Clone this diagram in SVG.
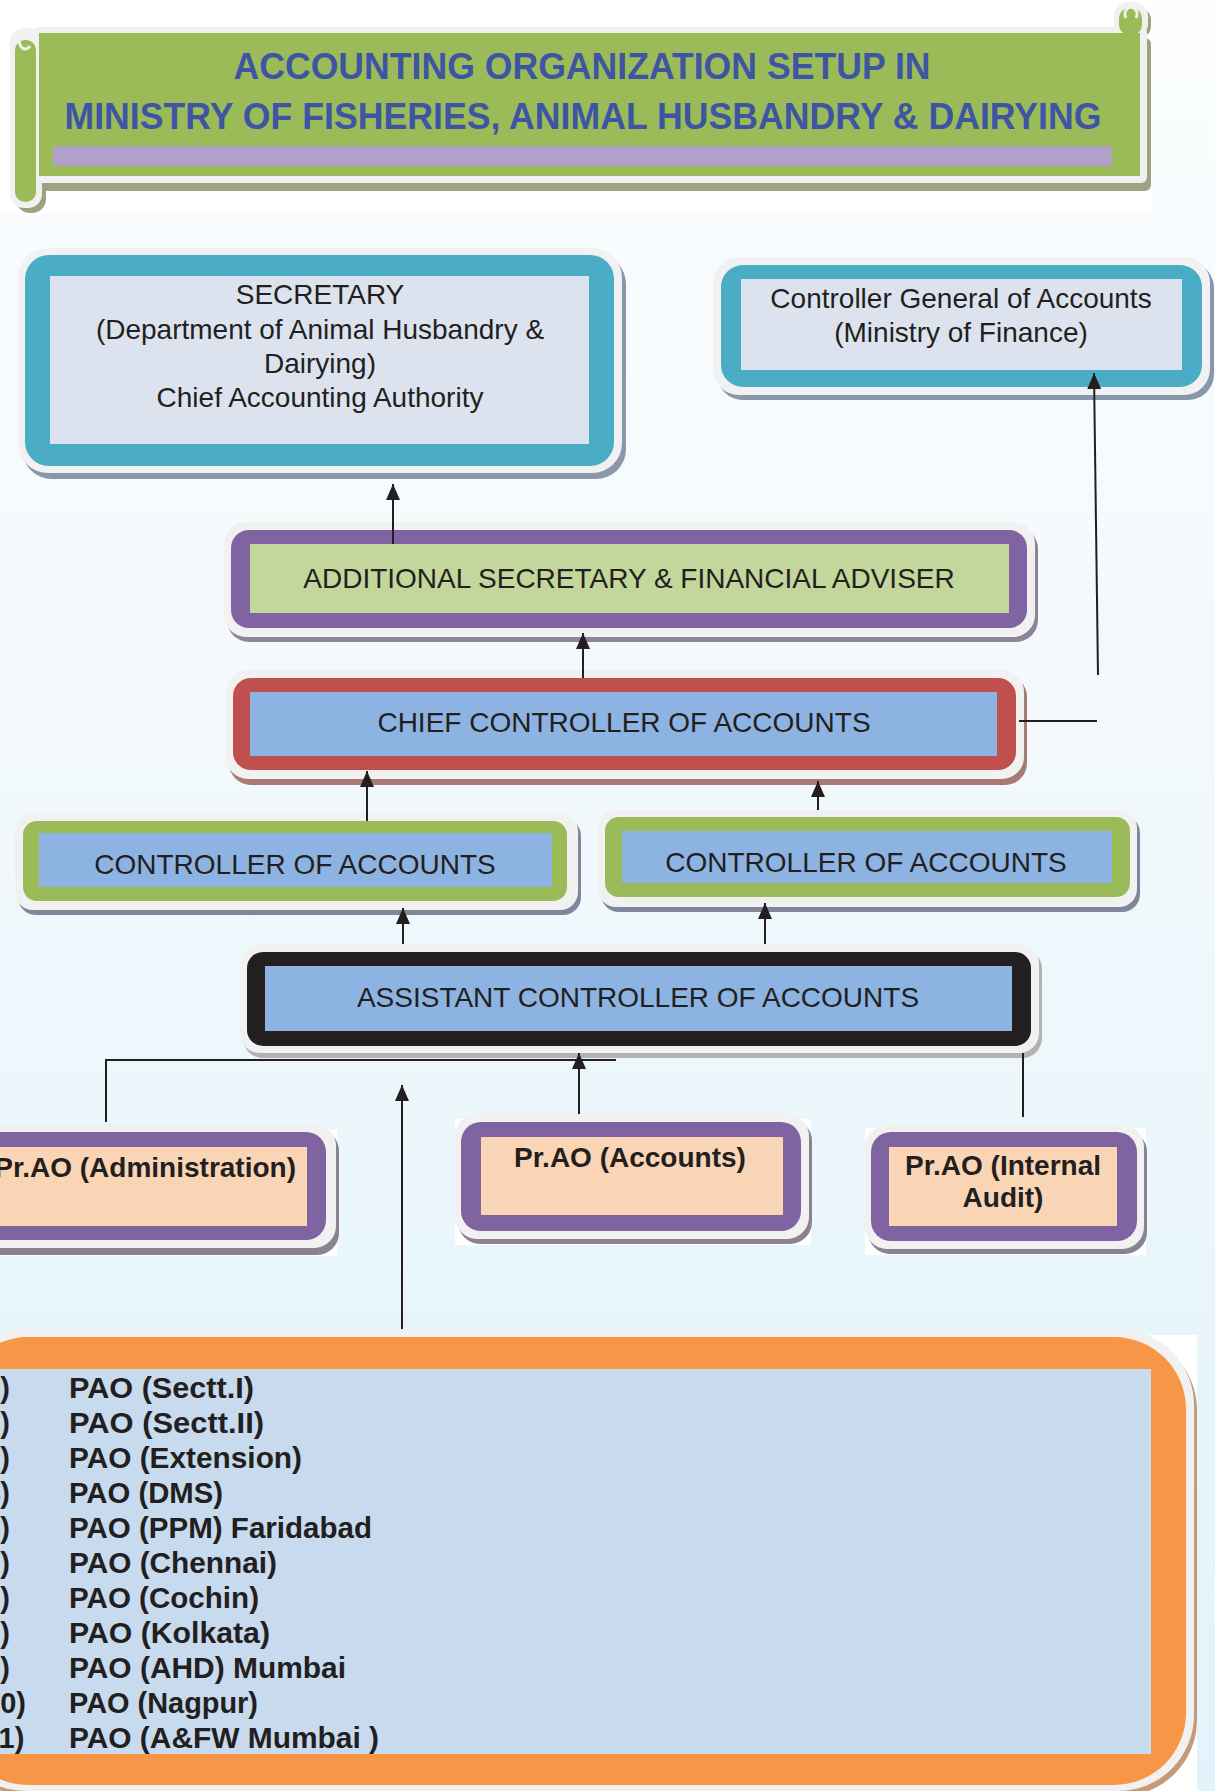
<svg xmlns="http://www.w3.org/2000/svg" width="1215" height="1791" viewBox="0 0 1215 1791">
<defs>
<linearGradient id="bg" x1="0" y1="0" x2="0" y2="1">
<stop offset="0" stop-color="#FBFDFE"/>
<stop offset="0.4" stop-color="#F3F9FC"/>
<stop offset="0.75" stop-color="#E7F5FB"/>
<stop offset="1" stop-color="#E3F3FB"/>
</linearGradient>
<marker id="ah" markerUnits="userSpaceOnUse" markerWidth="16" markerHeight="14" refX="16" refY="7" orient="auto"><path d="M0,0 L16,7 L0,14 z" fill="#231F20"/></marker>
<style>
.bt{font-family:"Liberation Sans",Arial,sans-serif;font-size:28px;fill:#231F20;text-anchor:middle}
.pb{font-family:"Liberation Sans",Arial,sans-serif;font-size:28px;font-weight:bold;fill:#231F20;text-anchor:middle}
.li{font-family:"Liberation Sans",Arial,sans-serif;font-size:29px;font-weight:bold;fill:#231F20}
.ttl{font-family:"Liberation Sans",Arial,sans-serif;font-size:36px;font-weight:bold;fill:#3E55A4;text-anchor:middle}
.wh{fill:#F1F1F1}
.ln{stroke:#231F20;stroke-width:2;fill:none}
.arr{stroke:#231F20;stroke-width:2;fill:none;marker-end:url(#ah)}
.teal{fill:#4BACC6}
.gin{fill:#DCE3EE}
.pur{fill:#8064A2}
.blu{fill:#8DB3E2}
.grn{fill:#9BBB59}
.pch{fill:#FAD5B5}
</style>
</defs>
<rect x="0" y="0" width="1215" height="1791" fill="url(#bg)"/>
<rect x="0" y="0" width="1152" height="214" fill="#FFFFFF"/>

<g id="title">
<rect x="42" y="38" width="1109" height="153" rx="6" fill="#9CA282"/>
<rect x="16" y="40" width="30" height="173" rx="14" fill="#9CA282"/>
<rect x="1120" y="8" width="31" height="30" rx="12" fill="#9CA282"/>
<rect x="33" y="27" width="1114" height="156" rx="6" class="wh"/>
<rect x="10" y="28" width="32" height="180" rx="14" class="wh"/>
<rect x="1114" y="2" width="34" height="36" rx="14" class="wh"/>
<rect x="15" y="40" width="21" height="162" rx="10" class="grn"/>
<rect x="1119" y="8" width="23" height="27" rx="10" class="grn"/>
<rect x="39" y="33" width="1101" height="143" class="grn"/>
<path d="M30,46 a6,8 0 1 1 0,-10" fill="none" stroke="#F1F1F1" stroke-width="3"/>
<path d="M1126,18 a6,7 0 1 1 10,0" fill="none" stroke="#F1F1F1" stroke-width="3"/>
<rect x="53" y="146" width="1059" height="20" fill="#B1A0C7"/>
<text class="ttl" x="582" y="79" textLength="697" lengthAdjust="spacingAndGlyphs">ACCOUNTING ORGANIZATION SETUP IN</text>
<text class="ttl" x="583" y="129" textLength="1037" lengthAdjust="spacingAndGlyphs">MINISTRY OF FISHERIES, ANIMAL HUSBANDRY &amp; DAIRYING</text>
</g>

<g id="secretary">
<rect x="22" y="254" width="604" height="225" rx="30" fill="#8898AA"/>
<rect x="18" y="248" width="604" height="225" rx="30" class="wh"/>
<rect x="25" y="255" width="589" height="211" rx="24" class="teal"/>
<rect x="50" y="276" width="539" height="168" class="gin"/>
<text class="bt" x="320" y="304">SECRETARY</text>
<text class="bt" x="320" y="339">(Department of Animal Husbandry &amp;</text>
<text class="bt" x="320" y="373">Dairying)</text>
<text class="bt" x="320" y="407">Chief Accounting Authority</text>
</g>

<g id="cga">
<rect x="717" y="262" width="497" height="138" rx="26" fill="#8898AA"/>
<rect x="713" y="257" width="497" height="138" rx="26" class="wh"/>
<rect x="721" y="265" width="481" height="122" rx="22" class="teal"/>
<rect x="741" y="279" width="441" height="91" class="gin"/>
<text class="bt" x="961" y="308">Controller General of Accounts</text>
<text class="bt" x="961" y="342">(Ministry of Finance)</text>
</g>

<g id="asfa">
<rect x="227" y="527" width="811" height="115" rx="22" fill="#8E8498"/>
<rect x="224" y="522" width="811" height="115" rx="22" class="wh"/>
<rect x="231" y="530" width="796" height="98" rx="18" class="pur"/>
<rect x="250" y="544" width="759" height="69" fill="#C3D69B"/>
<text class="bt" x="629" y="588">ADDITIONAL SECRETARY &amp; FINANCIAL ADVISER</text>
</g>

<g id="cca">
<rect x="229" y="675" width="798" height="110" rx="22" fill="#A77B74"/>
<rect x="226" y="670" width="798" height="109" rx="22" class="wh"/>
<rect x="233" y="678" width="783" height="92" rx="18" fill="#C0504D"/>
<rect x="250" y="692" width="747" height="64" class="blu"/>
<text class="bt" x="624" y="732">CHIEF CONTROLLER OF ACCOUNTS</text>
</g>

<g id="coa-left">
<rect x="18" y="818" width="563" height="97" rx="18" fill="#80879A"/>
<rect x="15" y="813" width="563" height="97" rx="18" class="wh"/>
<rect x="23" y="821" width="544" height="80" rx="14" class="grn"/>
<rect x="39" y="833" width="513" height="54" class="blu"/>
<text class="bt" x="295" y="874">CONTROLLER OF ACCOUNTS</text>
</g>

<g id="coa-right">
<rect x="601" y="815" width="539" height="97" rx="18" fill="#80879A"/>
<rect x="598" y="810" width="539" height="97" rx="18" class="wh"/>
<rect x="605" y="817" width="525" height="80" rx="14" class="grn"/>
<rect x="622" y="831" width="490" height="52" class="blu"/>
<text class="bt" x="866" y="872">CONTROLLER OF ACCOUNTS</text>
</g>

<g id="aca">
<rect x="243" y="949" width="799" height="109" rx="20" fill="#B2B2B2"/>
<rect x="240" y="944" width="799" height="109" rx="20" class="wh"/>
<rect x="247" y="952" width="784" height="94" rx="16" fill="#231F20"/>
<rect x="265" y="966" width="747" height="65" class="blu"/>
<text class="bt" x="638" y="1007">ASSISTANT CONTROLLER OF ACCOUNTS</text>
</g>

<g id="prao-admin">
<rect x="-10" y="1130" width="347" height="126" fill="#FFFFFF"/>
<rect x="-43" y="1129" width="382" height="126" rx="22" fill="#8A8192"/>
<rect x="-46" y="1124" width="382" height="124" rx="22" class="wh"/>
<rect x="-40" y="1132" width="366" height="108" rx="20" class="pur"/>
<rect x="-21" y="1147" width="328" height="79" class="pch"/>
<text class="pb" x="296" y="1177" style="text-anchor:end">Pr.AO (Administration)</text>
</g>

<g id="prao-accounts">
<rect x="455" y="1119" width="356" height="126" fill="#FFFFFF"/>
<rect x="458" y="1119" width="354" height="125" rx="22" fill="#8A8192"/>
<rect x="455" y="1114" width="354" height="125" rx="22" class="wh"/>
<rect x="461" y="1122" width="340" height="109" rx="20" class="pur"/>
<rect x="481" y="1137" width="302" height="78" class="pch"/>
<text class="pb" x="630" y="1167">Pr.AO (Accounts)</text>
</g>

<g id="prao-audit">
<rect x="865" y="1128" width="281" height="127" fill="#FFFFFF"/>
<rect x="868" y="1130" width="279" height="124" rx="22" fill="#8A8192"/>
<rect x="865" y="1125" width="279" height="124" rx="22" class="wh"/>
<rect x="871" y="1132" width="266" height="109" rx="20" class="pur"/>
<rect x="889" y="1147" width="228" height="79" class="pch"/>
<text class="pb" x="1003" y="1175">Pr.AO (Internal</text>
<text class="pb" x="1003" y="1207">Audit)</text>
</g>

<g id="pao-list">
<rect x="-10" y="1335" width="1207" height="460" fill="#FFFFFF"/>
<rect x="-47" y="1334" width="1244" height="462" rx="76" fill="#C49A78"/>
<rect x="-50" y="1329" width="1244" height="462" rx="76" class="wh"/>
<rect x="-44" y="1337" width="1230" height="448" rx="72" fill="#F79646"/>
<rect x="-10" y="1369" width="1161" height="385" fill="#C7DAEE"/>
<text class="li" x="-16" y="1398">1)</text>
<text class="li" x="-16" y="1433">2)</text>
<text class="li" x="-16" y="1468">3)</text>
<text class="li" x="-16" y="1503">4)</text>
<text class="li" x="-16" y="1538">5)</text>
<text class="li" x="-16" y="1573">6)</text>
<text class="li" x="-16" y="1608">7)</text>
<text class="li" x="-16" y="1643">8)</text>
<text class="li" x="-16" y="1678">9)</text>
<text class="li" x="-16" y="1713">10)</text>
<text class="li" x="-16" y="1748">11)</text>
<text class="li" x="69" y="1398" textLength="185" lengthAdjust="spacingAndGlyphs">PAO (Sectt.I)</text>
<text class="li" x="69" y="1433" textLength="195" lengthAdjust="spacingAndGlyphs">PAO (Sectt.II)</text>
<text class="li" x="69" y="1468" textLength="233" lengthAdjust="spacingAndGlyphs">PAO (Extension)</text>
<text class="li" x="69" y="1503" textLength="154" lengthAdjust="spacingAndGlyphs">PAO (DMS)</text>
<text class="li" x="69" y="1538" textLength="303" lengthAdjust="spacingAndGlyphs">PAO (PPM) Faridabad</text>
<text class="li" x="69" y="1573" textLength="208" lengthAdjust="spacingAndGlyphs">PAO (Chennai)</text>
<text class="li" x="69" y="1608" textLength="190" lengthAdjust="spacingAndGlyphs">PAO (Cochin)</text>
<text class="li" x="69" y="1643" textLength="201" lengthAdjust="spacingAndGlyphs">PAO (Kolkata)</text>
<text class="li" x="69" y="1678" textLength="277" lengthAdjust="spacingAndGlyphs">PAO (AHD) Mumbai</text>
<text class="li" x="69" y="1713" textLength="189" lengthAdjust="spacingAndGlyphs">PAO (Nagpur)</text>
<text class="li" x="69" y="1748" textLength="310" lengthAdjust="spacingAndGlyphs">PAO (A&amp;FW Mumbai )</text>
</g>

<g id="connectors">
<path class="arr" d="M393,544 L393,484"/>
<path class="arr" d="M583,678 L583,633"/>
<path class="ln" d="M1019,721 L1097,721"/>
<path class="arr" d="M1098,675 L1094,373"/>
<path class="arr" d="M367,821 L367,771"/>
<path class="arr" d="M818,810 L818,781"/>
<path class="arr" d="M403,944 L403,908"/>
<path class="arr" d="M765,944 L765,903"/>
<path class="ln" d="M106,1122 L106,1060 L616,1060"/>
<path class="arr" d="M579,1114 L579,1053"/>
<path class="ln" d="M1023,1053 L1023,1117"/>
<path class="arr" d="M402,1329 L402,1085"/>
</g>
</svg>
